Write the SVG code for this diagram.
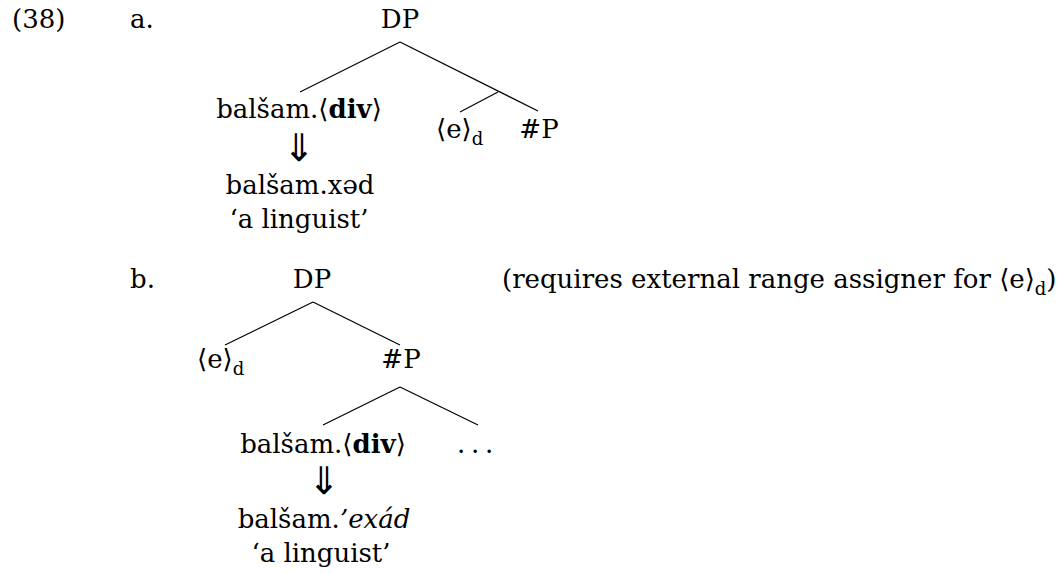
<svg xmlns="http://www.w3.org/2000/svg" width="1060" height="573" viewBox="0 0 1060 573">
<style>
text{font-family:"DejaVu Serif","Liberation Serif",serif;font-size:26px;fill:#000}
.m{text-anchor:middle}
.b{font-weight:bold}
.i{font-style:italic}
.sub{font-size:18px}
.arr{font-family:"DejaVu Sans",sans-serif;font-size:38px}
.edge{stroke:#000;stroke-width:1.2;fill:none}
</style>
<rect width="1060" height="573" fill="#fff"/>
<g id="labels">
<text x="12" y="28">(38)</text>
<text x="130" y="28">a.</text>
<text x="130" y="288">b.</text>
<text x="502" y="288">(requires external range assigner for ⟨e⟩<tspan class="sub" dy="7">d</tspan><tspan dy="-7">)</tspan></text>
</g>
<g id="connectors">
<line class="edge" x1="400" y1="42" x2="300" y2="92"/>
<line class="edge" x1="400" y1="42" x2="538" y2="111"/>
<line class="edge" x1="498" y1="92" x2="460" y2="112"/>
<line class="edge" x1="313" y1="302" x2="225" y2="345"/>
<line class="edge" x1="313" y1="302" x2="400" y2="345"/>
<line class="edge" x1="400" y1="387" x2="323" y2="425"/>
<line class="edge" x1="400" y1="387" x2="478" y2="425"/>
</g>
<g id="a-DP"><text class="m" x="400" y="28">DP</text></g>
<g id="a-balsam">
<text class="m" x="299" y="118">balšam.⟨<tspan class="b">div</tspan>⟩</text>
<text class="m arr" x="299" y="161">⇓</text>
<text class="m" x="300" y="194">balšam.xəd</text>
<text class="m" x="299" y="228">‘a linguist’</text>
</g>
<g id="a-e"><text x="436" y="138">⟨e⟩<tspan class="sub" dy="7">d</tspan></text></g>
<g id="a-numP"><text class="m" x="539" y="138">#P</text></g>
<g id="b-DP"><text class="m" x="312" y="288">DP</text></g>
<g id="b-e"><text x="197" y="368">⟨e⟩<tspan class="sub" dy="7">d</tspan></text></g>
<g id="b-numP"><text class="m" x="401" y="368">#P</text></g>
<g id="b-balsam">
<text class="m" x="323" y="453">balšam.⟨<tspan class="b">div</tspan>⟩</text>
<text class="m arr" x="324" y="494">⇓</text>
<text class="m" x="324" y="528">balšam.<tspan class="i">’exád</tspan></text>
<text class="m" x="321" y="562">‘a linguist’</text>
</g>
<g id="b-dots"><text x="457 471 485" y="453">...</text></g>
</svg>
